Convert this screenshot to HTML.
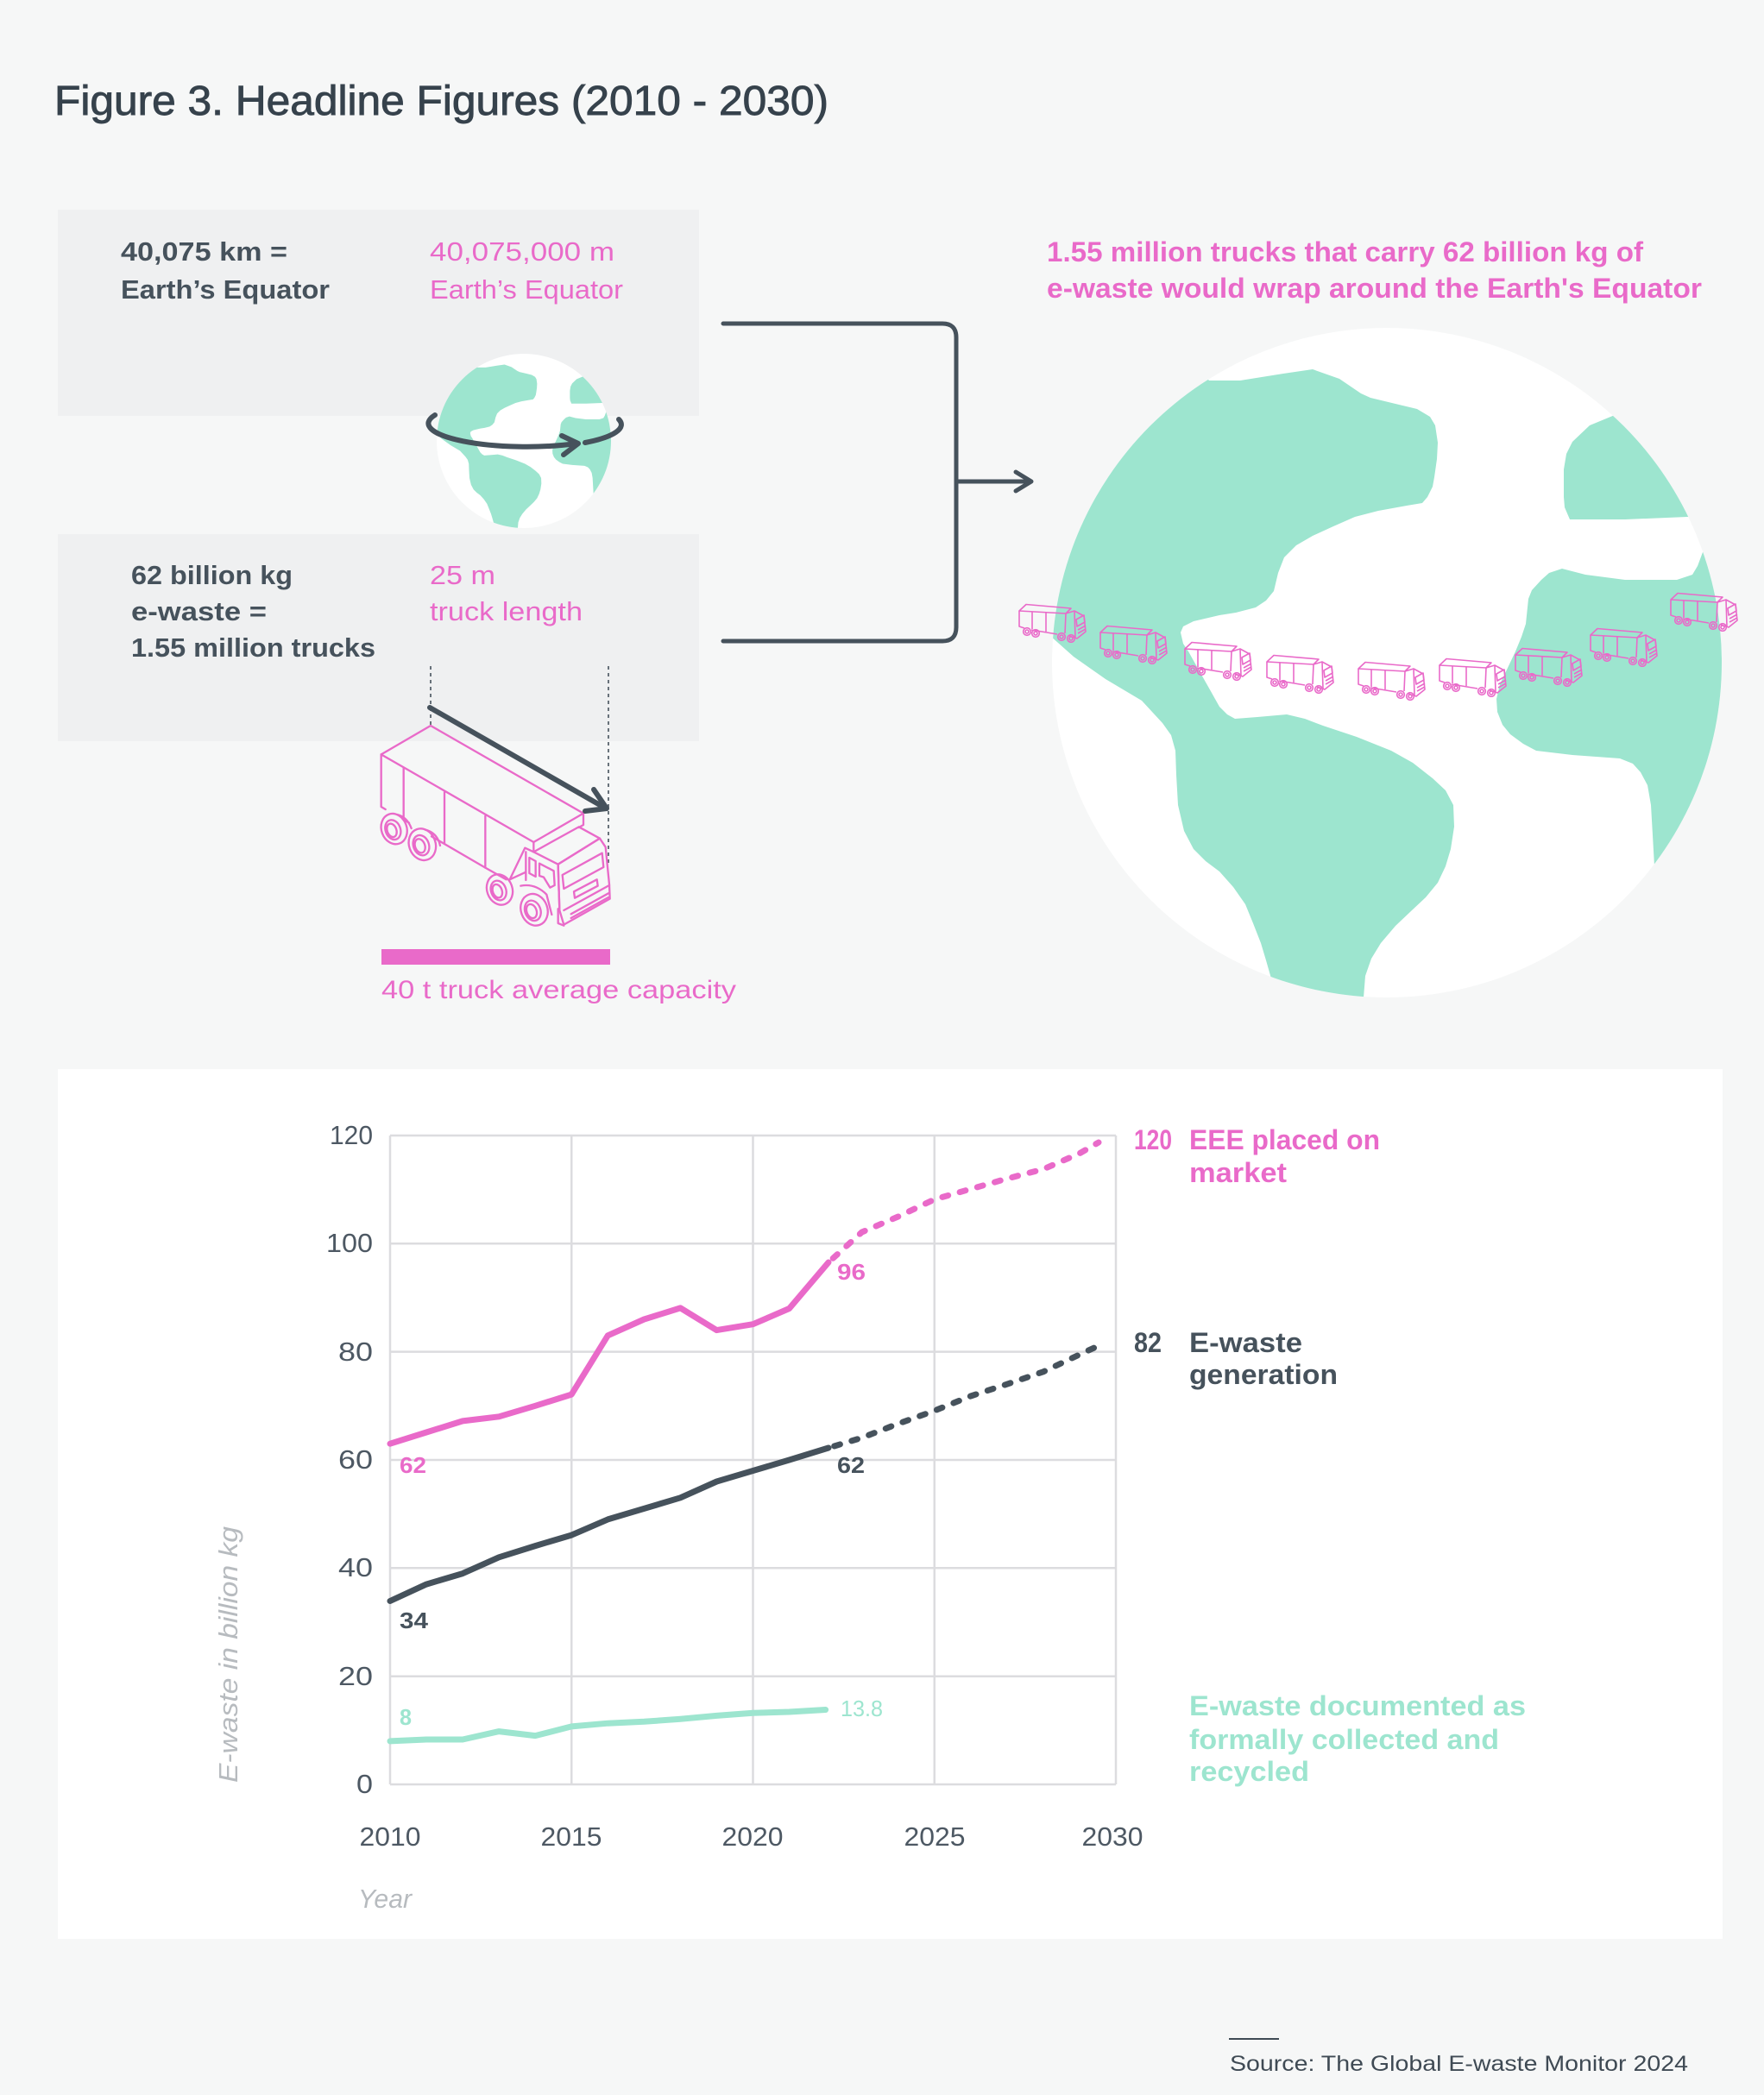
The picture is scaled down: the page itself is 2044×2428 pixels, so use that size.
<!DOCTYPE html>
<html><head><meta charset="utf-8"><style>
html,body{margin:0;padding:0;background:#f6f7f7;}
svg{display:block;}
text{font-family:"Liberation Sans",sans-serif;}
</style></head><body>
<svg width="2044" height="2428" viewBox="0 0 2044 2428" xmlns="http://www.w3.org/2000/svg">
<defs>
<clipPath id="gc"><circle cx="0" cy="0" r="388"/></clipPath>
<symbol id="globe" viewBox="-388 -388 776 776">
 <circle cx="0" cy="0" r="388" fill="#ffffff"/>
 <g clip-path="url(#gc)" fill="#9de5cf">
  <path d="M-300,-430 L-206,-327 L-170,-327 L-120,-335 L-86,-340 L-55,-329 L-30,-312 L-19,-307 L10,-300 L35,-294 L50,-285 L56,-275 L59,-255 L58,-236 L55,-215 L53,-204 L47,-192 L41,-185 L23,-182 L-10,-176 L-37,-169 L-62,-158 L-86,-147 L-105,-136 L-119,-122 L-126,-104 L-131,-83 L-140,-72 L-152,-64 L-175,-58 L-194,-55 L-224,-48 L-236,-42 L-239,-35 L-236,-22 L-230,-13 L-212,19 L-194,51 L-185,60 L-176,65 L-150,63 L-116,60 L-95,65 L-74,73 L-35,86 L5,102 L30,116 L53,134 L68,148 L77,165 L78,190 L74,216 L68,236 L59,255 L45,272 L29,287 L10,305 L-7,325 L-18,343 L-25,363 L-28,401 L-134,401 L-134,366 L-140,345 L-146,325 L-155,302 L-164,280 L-178,260 L-194,242 L-210,230 L-224,216 L-235,195 L-242,165 L-244,130 L-245,102 L-250,84 L-260,70 L-284,44 L-326,19 L-363,-7 L-399,-39 L-430,-39 L-430,-430 Z"/>
  <path d="M264,-287 L264,-450 L450,-450 L450,-169 L348,-169 L276,-166 L212,-166 L206,-180 L205,-192 L205,-224 L208,-242 L215,-256 L235,-275 Z"/>
  <path d="M366,-128 L360,-112 L354,-102 L336,-96 L276,-96 L230,-102 L203,-109 L188,-104 L179,-96 L168,-84 L164,-74 L161,-45 L156,-30 L149,-13 L131,25 L127,42 L128,57 L134,72 L143,83 L158,94 L173,102 L215,107 L270,111 L285,117 L294,127 L302,142 L306,165 L308,200 L310,236 L310,300 L450,300 L450,-128 Z"/>
 </g>
</symbol>
<symbol id="trk" viewBox="0 0 84 46">
 <g fill="none" stroke="#e96ac9" stroke-width="1.6" stroke-linejoin="round">
  <path d="M10,1.5 L62,6 L56,12 L2,9 Z"/>
  <path d="M2,9 L2,27 L8,29 M16,31 L46,36 M56,12 L55,35"/>
  <path d="M17,10 L17,30 M33,11 L33,33"/>
  <path d="M56,12 L66,9 L77,15 L79,33 L69,41 L60,38"/>
  <path d="M66,9 L67,40 M68,19 L77,14 L78,22 L69,27 Z"/>
  <path d="M70,31 L79,26 M70,35 L79,30"/>
  <circle cx="11" cy="33" r="4.3"/><circle cx="11" cy="33" r="2"/>
  <circle cx="21" cy="35" r="4.3"/><circle cx="21" cy="35" r="2"/>
  <circle cx="51" cy="39" r="4.3"/><circle cx="51" cy="39" r="2"/>
  <circle cx="62" cy="41" r="4.3"/><circle cx="62" cy="41" r="2"/>
 </g>
</symbol>
</defs>

<!-- Title -->
<text x="63" y="133" font-size="48" fill="#36424c" stroke="#36424c" stroke-width="0.9" textLength="897" lengthAdjust="spacingAndGlyphs">Figure 3. Headline Figures (2010 - 2030)</text>

<!-- Boxes -->
<rect x="67" y="243" width="743" height="239" fill="#eff0f1"/>
<rect x="67" y="619" width="743" height="240" fill="#eff0f1"/>

<text x="140" y="302" font-size="31" font-weight="bold" fill="#46525c" textLength="193" lengthAdjust="spacingAndGlyphs">40,075 km =</text>
<text x="140" y="346" font-size="31" font-weight="bold" fill="#46525c" textLength="242" lengthAdjust="spacingAndGlyphs">Earth’s Equator</text>
<text x="498" y="302" font-size="31" fill="#e96ac9" textLength="214" lengthAdjust="spacingAndGlyphs">40,075,000 m</text>
<text x="498" y="346" font-size="31" fill="#e96ac9" textLength="224" lengthAdjust="spacingAndGlyphs">Earth’s Equator</text>

<text x="152" y="677" font-size="31" font-weight="bold" fill="#46525c" textLength="187" lengthAdjust="spacingAndGlyphs">62 billion kg</text>
<text x="152" y="719" font-size="31" font-weight="bold" fill="#46525c" textLength="157" lengthAdjust="spacingAndGlyphs">e-waste =</text>
<text x="152" y="761" font-size="31" font-weight="bold" fill="#46525c" textLength="283" lengthAdjust="spacingAndGlyphs">1.55 million trucks</text>
<text x="498" y="677" font-size="31" fill="#e96ac9" textLength="76" lengthAdjust="spacingAndGlyphs">25 m</text>
<text x="498" y="719" font-size="31" fill="#e96ac9" textLength="177" lengthAdjust="spacingAndGlyphs">truck length</text>

<!-- Small globe -->
<use href="#globe" x="506" y="410" width="202" height="202"/>
<g fill="none" stroke="#46525c" stroke-width="6" stroke-linecap="round" stroke-linejoin="round">
 <path d="M504,481 A114,27 0 0,0 668,514"/>
 <path d="M678,513 A114,27 0 0,0 717,486"/>
 <path d="M651,505 L670,514 L653,527"/>
</g>

<!-- Bracket + arrow -->
<g fill="none" stroke="#46525c" stroke-width="5" stroke-linecap="round" stroke-linejoin="round">
 <path d="M838,375 L1092,375 Q1108,375 1108,391 L1108,727 Q1108,743 1092,743 L838,743"/>
 <path d="M1108,558 L1194,558"/>
 <path d="M1177,547 L1195,558 L1177,569"/>
</g>

<!-- Headline -->
<text x="1213" y="303" font-size="32" font-weight="bold" fill="#e96ac9" textLength="691" lengthAdjust="spacingAndGlyphs">1.55 million trucks that carry 62 billion kg of</text>
<text x="1213" y="345" font-size="32" font-weight="bold" fill="#e96ac9" textLength="759" lengthAdjust="spacingAndGlyphs">e-waste would wrap around the Earth's Equator</text>

<!-- Big globe -->
<use href="#globe" x="1219" y="380" width="776" height="776"/>

<!-- Small trucks -->
<use href="#trk" x="1179" y="699" width="84" height="46"/>
<use href="#trk" x="1273" y="724" width="84" height="46"/>
<use href="#trk" x="1371" y="743" width="84" height="46"/>
<use href="#trk" x="1466" y="758" width="84" height="46"/>
<use href="#trk" x="1572" y="766" width="84" height="46"/>
<use href="#trk" x="1666" y="762" width="84" height="46"/>
<use href="#trk" x="1754" y="750" width="84" height="46"/>
<use href="#trk" x="1841" y="727" width="84" height="46"/>
<use href="#trk" x="1934" y="686" width="84" height="46"/>

<!-- Big truck -->
<g stroke="#46525c" stroke-width="1.6" stroke-dasharray="4 4" fill="none">
 <path d="M499,772 L499,842"/>
 <path d="M705,772 L705,1000"/>
</g>
<g transform="translate(400,740) scale(0.333333)" fill="none" stroke="#e96ac9" stroke-width="7" stroke-linejoin="round" stroke-linecap="round">
 <path d="M297,303 L125,403 L655,708 L828,608 Z"/>
 <path d="M828,608 L828,648 L812,657 M655,708 L655,742"/>
 <path d="M125,403 L125,585 L140,594 M200,628 L222,641 M300,688 L487,797 L560,838"/>
 <path d="M203,450 L203,628 M345,535 L345,712 M487,617 L487,797"/>
 <ellipse cx="170" cy="662" rx="44" ry="54" transform="rotate(-20 170 662)"/>
 <ellipse cx="166" cy="665" rx="26" ry="35" transform="rotate(-20 166 665)"/>
 <ellipse cx="162" cy="667" rx="16" ry="24" transform="rotate(-20 162 667)"/>
 <path d="M180,612 Q215,620 230,660"/>
 <ellipse cx="268" cy="716" rx="46" ry="56" transform="rotate(-20 268 716)"/>
 <ellipse cx="264" cy="719" rx="27" ry="36" transform="rotate(-20 264 719)"/>
 <ellipse cx="260" cy="721" rx="17" ry="25" transform="rotate(-20 260 721)"/>
 <path d="M278,665 Q320,675 330,720"/>
 <ellipse cx="537" cy="873" rx="44" ry="54" transform="rotate(-20 537 873)"/>
 <ellipse cx="533" cy="876" rx="26" ry="35" transform="rotate(-20 533 876)"/>
 <ellipse cx="529" cy="878" rx="16" ry="24" transform="rotate(-20 529 878)"/>
 <ellipse cx="657" cy="943" rx="46" ry="56" transform="rotate(-20 657 943)"/>
 <ellipse cx="652" cy="946" rx="27" ry="36" transform="rotate(-20 652 946)"/>
 <ellipse cx="648" cy="948" rx="17" ry="25" transform="rotate(-20 648 948)"/>
 <path d="M655,742 L625,728 L572,838 L628,812"/>
 <path d="M655,742 L812,655 L885,695 L740,785 Z"/>
 <path d="M740,785 L885,695 L905,725 L918,855 L920,905 L760,995 L745,945 Z"/>
 <path d="M628,742 L628,840 M740,790 L745,945"/>
 <path d="M640,762 L662,774 L662,828 L640,816 Z"/>
 <path d="M675,782 L725,808 L728,858 L712,866 L690,830 L675,825 Z"/>
 <path d="M755,822 L893,746 L898,795 L760,870 Z"/>
 <path d="M795,880 L875,838 L878,860 L798,902 Z"/>
 <path d="M760,945 L918,858 M785,958 L915,886 M785,972 L915,900"/>
 <path d="M740,940 L740,990 L760,998"/>
 <path d="M610,860 Q660,850 700,890 L718,960"/>
</g>
<g fill="none" stroke="#46525c" stroke-width="6" stroke-linecap="round" stroke-linejoin="round">
 <path d="M498,820 L697,934"/>
 <path d="M688,915 L703,937 L678,940"/>
</g>
<rect x="442" y="1100" width="265" height="18" fill="#e96ac9"/>
<text x="442" y="1157" font-size="30" fill="#e96ac9" textLength="411" lengthAdjust="spacingAndGlyphs">40 t truck average capacity</text>

<!-- Chart panel -->
<rect x="67" y="1239" width="1929" height="1008" fill="#ffffff"/>

<g stroke="#dcdcdf" stroke-width="2.5" fill="none">
 <path d="M452,1316 L1293,1316 M452,1441.3 L1293,1441.3 M452,1566.6 L1293,1566.6 M452,1692 L1293,1692 M452,1817.3 L1293,1817.3 M452,1942.7 L1293,1942.7 M452,2068 L1293,2068"/>
 <path d="M452,1316 L452,2068 M662.25,1316 L662.25,2068 M872.5,1316 L872.5,2068 M1082.75,1316 L1082.75,2068 M1293,1316 L1293,2068"/>
</g>

<!-- Y tick labels -->
<g font-size="31" fill="#4d5863" text-anchor="end">
 <text x="432" y="1326" textLength="50" lengthAdjust="spacingAndGlyphs">120</text>
 <text x="432" y="1451" textLength="54" lengthAdjust="spacingAndGlyphs">100</text>
 <text x="432" y="1577" textLength="40" lengthAdjust="spacingAndGlyphs">80</text>
 <text x="432" y="1702" textLength="40" lengthAdjust="spacingAndGlyphs">60</text>
 <text x="432" y="1827" textLength="40" lengthAdjust="spacingAndGlyphs">40</text>
 <text x="432" y="1953" textLength="40" lengthAdjust="spacingAndGlyphs">20</text>
 <text x="432" y="2078" textLength="19" lengthAdjust="spacingAndGlyphs">0</text>
</g>
<!-- X tick labels -->
<g font-size="31" fill="#4d5863" text-anchor="middle">
 <text x="452" y="2139" textLength="71" lengthAdjust="spacingAndGlyphs">2010</text>
 <text x="662" y="2139" textLength="71" lengthAdjust="spacingAndGlyphs">2015</text>
 <text x="872" y="2139" textLength="71" lengthAdjust="spacingAndGlyphs">2020</text>
 <text x="1083" y="2139" textLength="71" lengthAdjust="spacingAndGlyphs">2025</text>
 <text x="1289" y="2139" textLength="71" lengthAdjust="spacingAndGlyphs">2030</text>
</g>
<text x="415" y="2211" font-size="31" font-style="italic" fill="#b7bbbf" textLength="62" lengthAdjust="spacingAndGlyphs">Year</text>
<text transform="translate(275,2066) rotate(-90)" font-size="31" font-style="italic" fill="#b7bbbf" textLength="297" lengthAdjust="spacingAndGlyphs">E-waste in billion kg</text>

<!-- Series -->
<g fill="none" stroke-width="7" stroke-linejoin="round">
 <polyline stroke="#e96ac9" stroke-linecap="round" points="452,1673.2 494.05,1660 536.1,1646.9 578.15,1641.8 620.2,1629.3 662.25,1616.1 704.3,1547.8 746.35,1529 788.4,1515.9 830.45,1541.6 872.5,1534.7 914.55,1516.5 960,1463"/>
 <polyline stroke="#e96ac9" stroke-linecap="round" stroke-dasharray="7 14" stroke-dashoffset="14" points="960,1463 998.65,1428 1040.7,1410 1082.75,1390 1124.8,1378 1166.85,1366 1208.9,1355 1251,1336.7 1273,1324"/>
 <polyline stroke="#46525c" stroke-linecap="round" points="452,1855.5 494.05,1836.1 536.1,1823.6 578.15,1804.8 620.2,1791.6 662.25,1779.1 704.3,1760.9 746.35,1748.4 788.4,1735.8 830.45,1717 872.5,1704.5 914.55,1692 960,1678"/>
 <polyline stroke="#46525c" stroke-linecap="round" stroke-dasharray="7 14" stroke-dashoffset="14" points="960,1678 998.65,1666.3 1040.7,1650 1082.75,1635 1124.8,1618 1166.85,1604.2 1208.9,1589.8 1251,1569.8 1270,1561"/>
 <polyline stroke="#9de5cf" stroke-linecap="round" points="452,2017.9 494.05,2016 536.1,2016 578.15,2006.6 620.2,2011.6 662.25,2000.9 704.3,1997.2 746.35,1995.3 788.4,1992.2 830.45,1988.4 872.5,1985.3 914.55,1984 956.6,1981.5"/>
</g>

<!-- Data labels -->
<g font-size="26" font-weight="bold">
 <text x="463" y="1707" fill="#e96ac9" textLength="31" lengthAdjust="spacingAndGlyphs">62</text>
 <text x="970" y="1483" fill="#e96ac9" textLength="33" lengthAdjust="spacingAndGlyphs">96</text>
 <text x="970" y="1707" fill="#46525c" textLength="32" lengthAdjust="spacingAndGlyphs">62</text>
 <text x="463" y="1887" fill="#46525c" textLength="33" lengthAdjust="spacingAndGlyphs">34</text>
 <text x="463" y="1999" fill="#9de5cf" textLength="14" lengthAdjust="spacingAndGlyphs">8</text>
</g>
<text x="974" y="1989" font-size="26" fill="#9de5cf" textLength="49" lengthAdjust="spacingAndGlyphs">13.8</text>

<!-- Legend -->
<g font-size="32" font-weight="bold">
 <text x="1314" y="1332" fill="#e96ac9" textLength="44" lengthAdjust="spacingAndGlyphs">120</text>
 <text x="1378" y="1332" fill="#e96ac9" textLength="221" lengthAdjust="spacingAndGlyphs">EEE placed on</text>
 <text x="1378" y="1370" fill="#e96ac9" textLength="113" lengthAdjust="spacingAndGlyphs">market</text>
 <text x="1314" y="1567" fill="#46525c" textLength="32" lengthAdjust="spacingAndGlyphs">82</text>
 <text x="1378" y="1567" fill="#46525c" textLength="131" lengthAdjust="spacingAndGlyphs">E-waste</text>
 <text x="1378" y="1604" fill="#46525c" textLength="172" lengthAdjust="spacingAndGlyphs">generation</text>
 <text x="1378" y="1988" fill="#9de5cf" textLength="390" lengthAdjust="spacingAndGlyphs">E-waste documented as</text>
 <text x="1378" y="2027" fill="#9de5cf" textLength="359" lengthAdjust="spacingAndGlyphs">formally collected and</text>
 <text x="1378" y="2064" fill="#9de5cf" textLength="139" lengthAdjust="spacingAndGlyphs">recycled</text>
</g>

<!-- Source -->
<rect x="1424" y="2362" width="58" height="2" fill="#3f4a54"/>
<text x="1425" y="2400" font-size="25" fill="#3f4a54" textLength="531" lengthAdjust="spacingAndGlyphs">Source: The Global E-waste Monitor 2024</text>
</svg>
</body></html>
